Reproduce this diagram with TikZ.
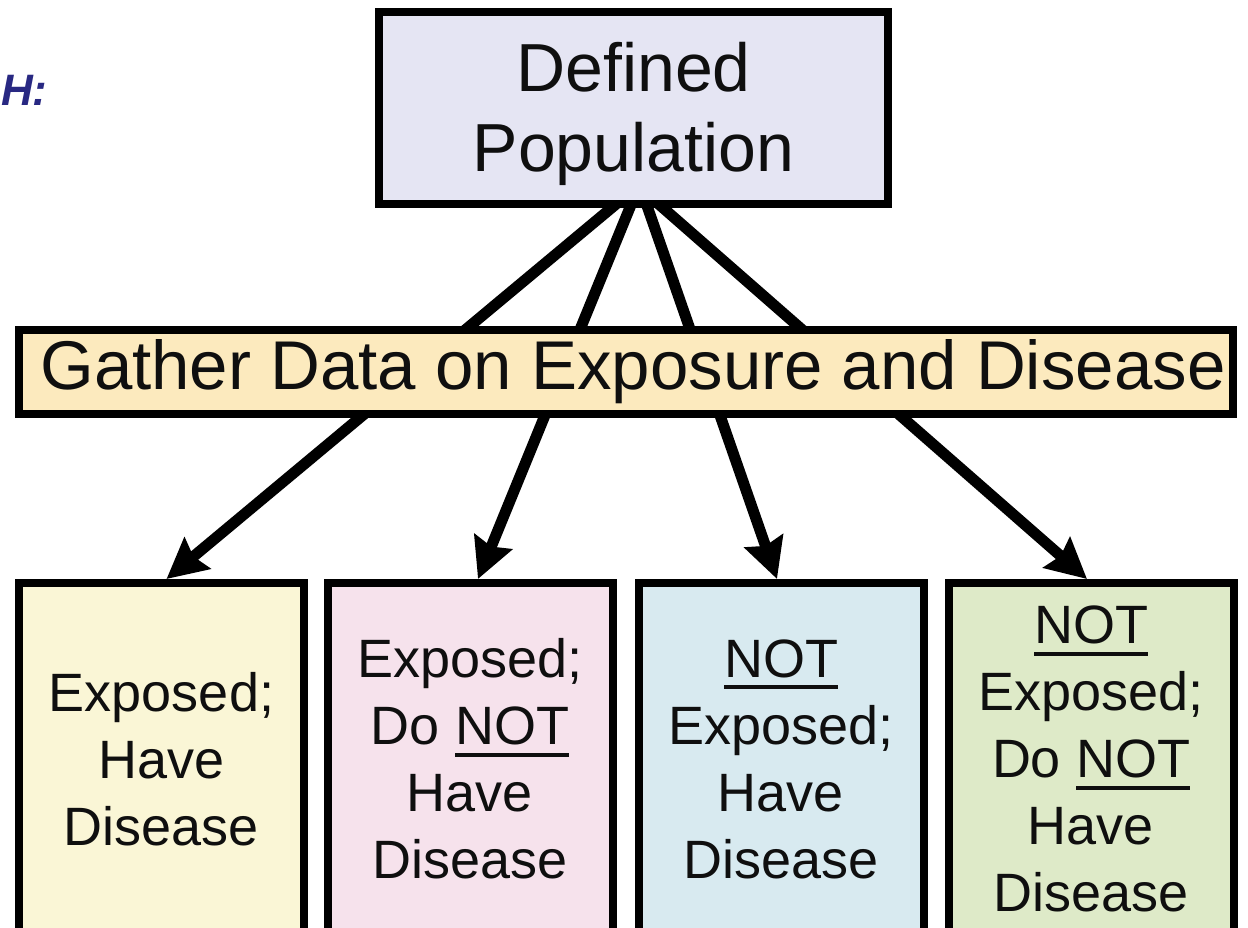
\documentclass[tikz,border=0pt]{standalone}
\usepackage{fontspec}
\setmainfont{Liberation Sans}
\usetikzlibrary{arrows.meta,calc,backgrounds}

\definecolor{popfill}{RGB}{229,229,243}
\definecolor{gatherfill}{RGB}{252,234,190}
\definecolor{yfill}{RGB}{250,246,214}
\definecolor{pfill}{RGB}{246,226,236}
\definecolor{bfill}{RGB}{216,234,240}
\definecolor{gfill}{RGB}{222,234,200}
\definecolor{navy}{RGB}{40,40,130}
\definecolor{ink}{RGB}{15,15,15}

% thick underline for emphasised words
\newsavebox\ulbox
\newcommand{\ulw}[1]{\sbox\ulbox{#1}\rlap{\rule[-12pt]{\wd\ulbox}{4pt}}\usebox\ulbox}

\begin{document}
\begin{tikzpicture}[x=1pt,y=-1pt,
  box/.style={draw=black,line width=8pt,inner sep=0pt,text=ink},
  bigtext/.style={font=\fontsize{68}{80}\selectfont,align=center},
  smalltext/.style={font=\fontsize{54}{67}\selectfont,align=center},
  outcome/.style={box,smalltext,minimum width=285pt,minimum height=352pt},
  conn/.style={line width=11pt,draw=black,
    -{Stealth[length=40pt,width=40pt,inset=5pt]}}]

\useasboundingbox (0,0) rectangle (1248,928);
\clip (0,0) rectangle (1248,928);

% heading fragment
\node[anchor=base west,inner sep=0pt,text=navy,
  font=\fontsize{44}{52}\selectfont\bfseries\itshape] (head) at (1,106) {H:};

% source population
\node[box,bigtext,fill=popfill,minimum width=509pt,minimum height=192pt,
  text height=141pt] (pop) at (633.5,108) {Defined\\Population};

% data-gathering step
\node[box,fill=gatherfill,minimum width=1214pt,minimum height=84pt,
  font=\fontsize{69}{80}\selectfont] (gather) at (626,372)
  {\hspace*{14pt}Gather Data on Exposure and Disease};

% four outcome groups
\node[outcome,fill=yfill] (b1) at (161.5,759) {Exposed;\\Have\\Disease};
\node[outcome,fill=pfill] (b2) at (470,759) {Exposed;\\Do \ulw{NOT}\\Have\\Disease};
\node[outcome,fill=bfill] (b3) at (781,759) {\ulw{NOT}\\Exposed;\\Have\\Disease};
\node[outcome,fill=gfill] (b4) at (1091,759) {\ulw{NOT}\\Exposed;\\Do \ulw{NOT}\\Have\\Disease};

% connectors run behind the boxes
\begin{scope}[on background layer]
  \fill[white] (0,0) rectangle (1248,928);
  \draw[conn] ($(pop.south)+(-12.5,-8)$) -- ($(b1.north)+(5,0)$);
  \draw[conn] ($(pop.south)+(-0.5,-8)$) -- ($(b2.north)+(8,0)$);
  \draw[conn] ($(pop.south)+(11.5,-8)$) -- ($(b3.north)+(-4,0)$);
  \draw[conn] ($(pop.south)+(20.5,-8)$) -- ($(b4.north)+(-4,0)$);
\end{scope}
\end{tikzpicture}
\end{document}
